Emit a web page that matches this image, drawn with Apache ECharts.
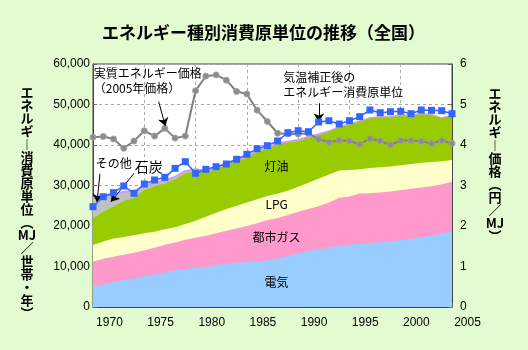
<!DOCTYPE html>
<html>
<head>
<meta charset="utf-8">
<script src="https://cdn.jsdelivr.net/npm/echarts@6/dist/echarts.min.js"></script>
<style>
  html, body { margin: 0; padding: 0; background: #E2FBD0; }
  #chart { width: 528px; height: 350px; }
</style>
</head>
<body>
<div id="chart"></div>
<script>
// 年度（データは1968〜2003）
const years = [1968, 1969, 1970, 1971, 1972, 1973, 1974, 1975, 1976, 1977, 1978, 1979,
  1980, 1981, 1982, 1983, 1984, 1985, 1986, 1987, 1988, 1989, 1990, 1991,
  1992, 1993, 1994, 1995, 1996, 1997, 1998, 1999, 2000, 2001, 2002, 2003];
const yearLabels = [1970, 1975, 1980, 1985, 1990, 1995, 2000, 2005];

// エネルギー種別消費原単位 (MJ/世帯・年)
const electric = [5000, 5600, 6200, 6600, 7100, 7600, 8000, 8500, 9100, 9400, 9700, 9900,
  10300, 10700, 10900, 11100, 11300, 11500, 12000, 12600, 13300, 13800, 14200, 14600,
  15200, 15400, 15600, 15800, 16000, 16200, 16500, 16800, 17200, 17600, 18100, 18700];
const cityGas = [6200, 6300, 6200, 6300, 6300, 6400, 6600, 6900, 6800, 7200, 7400, 7700,
  7900, 8100, 8500, 8900, 9400, 10000, 10000, 10100, 10200, 10400, 10700, 11200,
  11800, 11900, 12400, 12300, 12300, 12300, 12300, 12400, 12300, 12200, 12200, 12200];
const lpg = [4100, 4300, 4500, 4400, 4300, 4200, 4000, 3800, 3800, 3900, 4200, 4700,
  5100, 5400, 5600, 5800, 5900, 5900, 6000, 6000, 6200, 6500, 6800, 6900,
  6700, 6500, 6000, 6200, 6200, 6200, 6200, 6100, 6100, 6000, 5700, 5400];
const kerosene = [6600, 7300, 7900, 8900, 9300, 10600, 11200, 11300, 11800, 12500, 12200, 10900,
  10500, 11000, 10900, 11000, 11600, 11600, 12200, 11900, 11300, 11100, 10800, 10600,
  10600, 11200, 11700, 12300, 12300, 12100, 12300, 11900, 12000, 11600, 10600, 10900];
const coal = [4800, 3600, 2800, 2000, 1400, 900, 600, 500, 400, 300, 250, 200,
  200, 150, 150, 120, 100, 100, 80, 80, 60, 60, 50, 50,
  50, 40, 40, 40, 30, 30, 30, 30, 30, 20, 20, 20];
const others = [500, 500, 500, 500, 500, 500, 500, 500, 500, 500, 500, 500,
  500, 500, 500, 500, 450, 450, 400, 400, 400, 400, 350, 300,
  300, 300, 300, 300, 300, 250, 250, 250, 250, 250, 250, 250];
// 気温補正後のエネルギー消費原単位 (MJ/世帯・年)
const corrected = [24760, 27230, 28220, 29880, 28070, 30370, 31360, 32020, 34240, 35880, 33010, 34000,
  34640, 35310, 36470, 37700, 39090, 39830, 40990, 43040, 43530, 43290, 45680, 46000,
  45180, 46000, 46990, 48640, 47980, 48220, 48320, 47730, 48640, 48550, 48470, 47730];
// 実質エネルギー価格 (円/MJ, 2005年価格)
const price = [4.19, 4.21, 4.15, 3.92, 4.10, 4.35, 4.22, 4.41, 4.17, 4.22, 5.34, 5.70,
  5.73, 5.60, 5.32, 5.26, 4.86, 4.58, 4.29, 4.27, 4.27, 4.29, 4.14, 4.07,
  4.12, 4.10, 4.02, 4.16, 4.10, 4.00, 4.11, 4.11, 4.09, 4.04, 4.11, 4.04];

const jp = '"Noto Sans CJK JP", sans-serif';
const num = '"Liberation Sans", Arial, sans-serif';
const leftTitle = ['エ', 'ネ', 'ル', 'ギ', '︱', '消', '費', '原', '単', '位', '︵', 'MJ', '／', '世', '帯', '・', '年', '︶'];
const rightTitle = ['エ', 'ネ', 'ル', 'ギ', '︱', '価', '格', '︵', '円', '／', 'MJ', '︶'];

const pairs = arr => years.map((y, i) => [y, arr[i]]);

// 積み上げ: 下から順に累積し、上の層から先に描いて下の層を重ねる
const layers = [
  { name: '電気', data: electric, color: '#99CCFF' },
  { name: '都市ガス', data: cityGas, color: '#FF99CC' },
  { name: 'LPG', data: lpg, color: '#FFFFCC' },
  { name: '灯油', data: kerosene, color: '#99CC00' },
  { name: '石炭', data: coal, color: '#C0C0C0' },
  { name: 'その他', data: others, color: '#CC99FF' }
];
let running = years.map(() => 0);
let areaSeries = layers.map(l => {
  running = running.map((v, i) => v + l.data[i]);
  return {
    name: l.name, type: 'line', xAxisIndex: 0, yAxisIndex: 0,
    data: pairs(running), showSymbol: false, symbol: 'none',
    lineStyle: { width: 0 }, areaStyle: { color: l.color, opacity: 1 }, z: 2
  };
}).reverse();

function note(coord, text, size) {
  return {
    coord: coord, symbolSize: 1, itemStyle: { color: 'rgba(0,0,0,0)' },
    label: { show: true, position: [0, 0], formatter: text, color: '#000',
      fontFamily: jp, fontSize: size || 12, lineHeight: size ? size + 2 : 15 }
  };
}

function inner(coord, text) {
  return {
    coord: coord, symbolSize: 1, itemStyle: { color: 'rgba(0,0,0,0)' },
    label: { show: true, position: 'inside', formatter: text, color: '#000',
      fontFamily: jp, fontSize: 12 }
  };
}

let chart = echarts.init(document.getElementById('chart'));
let option = {
  backgroundColor: '#E2FBD0',
  animation: false,
  title: {
    text: 'エネルギー種別消費原単位の推移（全国）',
    left: 97, top: 19,
    textStyle: { fontFamily: jp, fontSize: 17, fontWeight: 'bold', color: '#000' }
  },
  grid: [
    { left: 93, right: 76, top: 64, bottom: 43, show: true,
      backgroundColor: '#fff', borderColor: '#444', borderWidth: 1 },
    { left: 89, right: 60.5, top: 64, bottom: 43, show: false }
  ],
  xAxis: [
    { type: 'value', gridIndex: 0, min: 1968, max: 2003, interval: 5,
      axisLine: { lineStyle: { color: '#444' } },
      axisTick: { inside: true, length: 4, lineStyle: { color: '#666' } },
      axisLabel: { show: false },
      splitLine: { show: true, lineStyle: { color: '#aaa', type: [3, 3] } } },
    { type: 'value', gridIndex: 1, min: 1968, max: 2005,
      axisLine: { show: false }, axisTick: { show: false }, splitLine: { show: false },
      axisLabel: { customValues: yearLabels, formatter: v => String(v), margin: 10,
        fontFamily: num, fontSize: 12, color: '#000' } }
  ],
  yAxis: [
    { type: 'value', gridIndex: 0, min: 0, max: 60000, interval: 10000,
      axisLine: { show: true, lineStyle: { color: '#444' } },
      axisTick: { show: true, inside: true, length: 4, lineStyle: { color: '#666' } },
      axisLabel: { margin: 3, fontFamily: num, fontSize: 12, color: '#000' },
      splitLine: { show: true, lineStyle: { color: '#aaa', type: [3, 3] } } },
    { type: 'value', gridIndex: 0, position: 'right', min: 0, max: 6, interval: 1,
      axisLine: { show: true, lineStyle: { color: '#444' } },
      axisTick: { show: true, inside: true, length: 4, lineStyle: { color: '#666' } },
      axisLabel: { margin: 8, fontFamily: num, fontSize: 12, color: '#000' },
      splitLine: { show: false } },
    { type: 'value', gridIndex: 1, show: false, min: 0, max: 1 }
  ],
  graphic: [
    { type: 'text', x: 27, y: 86, z: 10,
      style: { text: leftTitle.join('\n'), align: 'center', verticalAlign: 'top',
        fontFamily: jp, fontSize: 13, fontWeight: 'bold', lineHeight: 13, fill: '#000' } },
    { type: 'text', x: 495, y: 87, z: 10,
      style: { text: rightTitle.join('\n'), align: 'center', verticalAlign: 'top',
        fontFamily: jp, fontSize: 13, fontWeight: 'bold', lineHeight: 13, fill: '#000' } }
  ],
  series: areaSeries.concat([
    {
      name: '実質エネルギー価格', type: 'line', xAxisIndex: 0, yAxisIndex: 1,
      data: pairs(price), symbol: 'circle', symbolSize: 6,
      itemStyle: { color: '#8c8c8c', borderColor: '#a0a0a0', borderWidth: 1 },
      lineStyle: { color: '#808080', width: 2 }, z: 4
    },
    {
      name: '気温補正後のエネルギー消費原単位', type: 'line', xAxisIndex: 0, yAxisIndex: 0,
      data: pairs(corrected), symbol: 'rect', symbolSize: 7,
      itemStyle: { color: '#3366FF' },
      lineStyle: { color: '#3366FF', width: 1.5 }, z: 5,
      markLine: {
        silent: true, symbol: ['none', 'arrow'], symbolSize: 8,
        lineStyle: { color: '#000', width: 1, type: 'solid' },
        label: { show: false },
        data: [
          [{ coord: [1974.4, 50700] }, { coord: [1975.05, 44700] }],
          [{ coord: [1968.68, 32900] }, { coord: [1968.39, 25900] }],
          [{ coord: [1972.0, 33000] }, { coord: [1969.75, 26000] }],
          [{ coord: [1990.02, 50300] }, { coord: [1990.02, 45800] }]
        ]
      },
      markPoint: {
        silent: true,
        data: [
          note([1968.1, 59300], '実質エネルギー価格\n（2005年価格）'),
          note([1968.29, 37000], 'その他'),
          note([1972.1, 36300], '石炭', 14),
          note([1986.57, 58400], '気温補正後の\nエネルギー消費原単位'),
          inner([1985.9, 34600], '灯油'),
          inner([1985.9, 25200], 'LPG'),
          inner([1985.9, 17000], '都市ガス'),
          inner([1985.9, 5900], '電気')
        ]
      }
    }
  ])
};
chart.setOption(option);
</script>
</body>
</html>
